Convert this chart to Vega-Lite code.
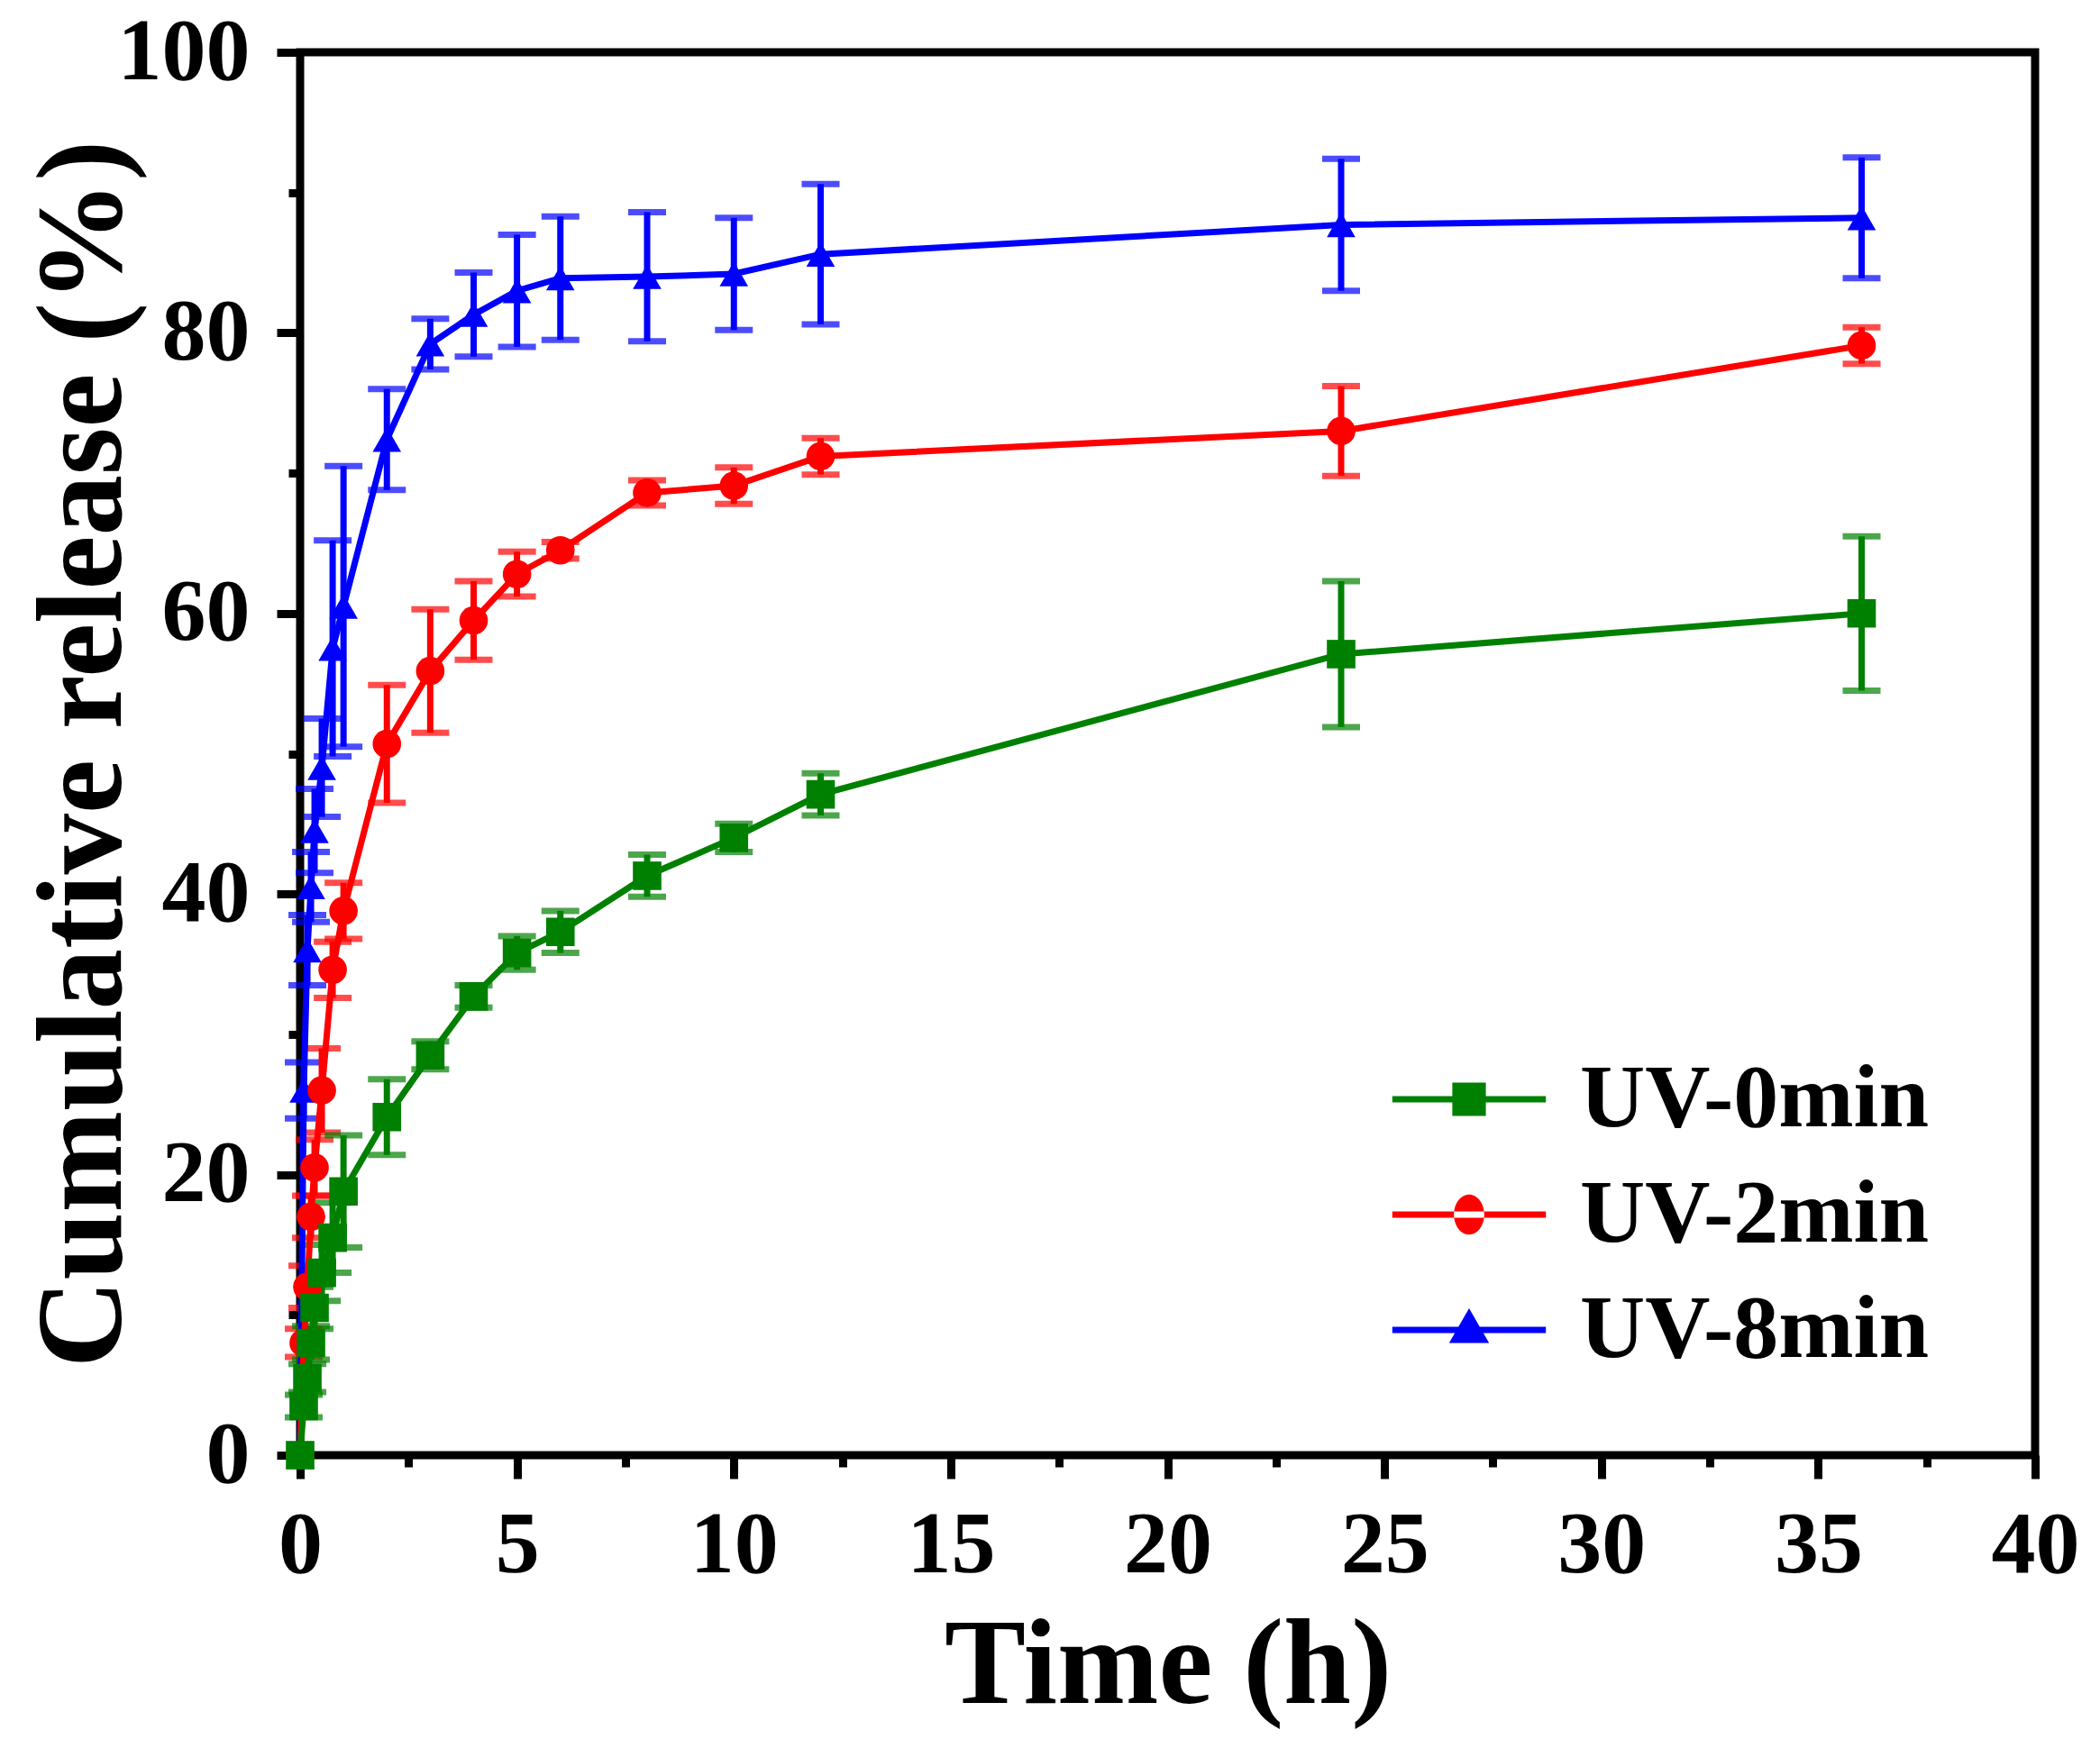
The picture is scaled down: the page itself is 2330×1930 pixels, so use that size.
{
  "$schema": "https://vega.github.io/schema/vega-lite/v6.json",
  "autosize": "none",
  "width": 1925,
  "height": 1557,
  "padding": {"left": 333, "top": 58, "right": 72, "bottom": 315},
  "background": "white",
  "config": {
    "view": {"stroke": "black", "strokeWidth": 9},
    "font": "Liberation Serif",
    "axis": {
      "domain": false, "grid": false, "tickColor": "black", "tickWidth": 9,
      "labelFont": "Liberation Serif", "labelFontWeight": "bold", "labelFontSize": 98, "labelColor": "black",
      "titleFont": "Liberation Serif", "titleFontWeight": "bold", "titleFontSize": 135, "titleColor": "black"
    },
    "legend": {
      "labelFont": "Liberation Serif", "labelFontWeight": "bold", "labelFontSize": 100, "labelColor": "black", "labelLimit": 1000
    }
  },
  "data": {
    "values": [
      {"t": 0, "s": "UV-8min", "v": 0, "e": 0},
      {"t": 0.083, "s": "UV-8min", "v": 26, "e": 2},
      {"t": 0.167, "s": "UV-8min", "v": 36, "e": 2.5},
      {"t": 0.25, "s": "UV-8min", "v": 40.5, "e": 2.5},
      {"t": 0.333, "s": "UV-8min", "v": 44.5, "e": 3},
      {"t": 0.5, "s": "UV-8min", "v": 49, "e": 3.5},
      {"t": 0.75, "s": "UV-8min", "v": 57.5, "e": 7.7},
      {"t": 1, "s": "UV-8min", "v": 60.5, "e": 10},
      {"t": 2, "s": "UV-8min", "v": 72.4, "e": 3.6},
      {"t": 3, "s": "UV-8min", "v": 79.2, "e": 1.8},
      {"t": 4, "s": "UV-8min", "v": 81.3, "e": 3},
      {"t": 5, "s": "UV-8min", "v": 83.0, "e": 4},
      {"t": 6, "s": "UV-8min", "v": 83.9, "e": 4.4},
      {"t": 8, "s": "UV-8min", "v": 84.0, "e": 4.6},
      {"t": 10, "s": "UV-8min", "v": 84.2, "e": 4},
      {"t": 12, "s": "UV-8min", "v": 85.6, "e": 5},
      {"t": 24, "s": "UV-8min", "v": 87.7, "e": 4.7},
      {"t": 36, "s": "UV-8min", "v": 88.2, "e": 4.3},
      {"t": 0, "s": "UV-2min", "v": 0, "e": 0},
      {"t": 0.083, "s": "UV-2min", "v": 8, "e": 1},
      {"t": 0.167, "s": "UV-2min", "v": 12, "e": 1.5},
      {"t": 0.25, "s": "UV-2min", "v": 17, "e": 1.5},
      {"t": 0.333, "s": "UV-2min", "v": 20.5, "e": 2},
      {"t": 0.5, "s": "UV-2min", "v": 26, "e": 3},
      {"t": 0.75, "s": "UV-2min", "v": 34.6, "e": 2},
      {"t": 1, "s": "UV-2min", "v": 38.8, "e": 2},
      {"t": 2, "s": "UV-2min", "v": 50.7, "e": 4.2},
      {"t": 3, "s": "UV-2min", "v": 55.9, "e": 4.4},
      {"t": 4, "s": "UV-2min", "v": 59.5, "e": 2.8},
      {"t": 5, "s": "UV-2min", "v": 62.8, "e": 1.6},
      {"t": 6, "s": "UV-2min", "v": 64.5, "e": 0.6},
      {"t": 8, "s": "UV-2min", "v": 68.6, "e": 0.9},
      {"t": 10, "s": "UV-2min", "v": 69.1, "e": 1.3},
      {"t": 12, "s": "UV-2min", "v": 71.2, "e": 1.3},
      {"t": 24, "s": "UV-2min", "v": 73.0, "e": 3.2},
      {"t": 36, "s": "UV-2min", "v": 79.1, "e": 1.3},
      {"t": 0, "s": "UV-0min", "v": 0, "e": 0},
      {"t": 0.083, "s": "UV-0min", "v": 3.5, "e": 0.8},
      {"t": 0.167, "s": "UV-0min", "v": 5.5, "e": 1},
      {"t": 0.25, "s": "UV-0min", "v": 8, "e": 1.2},
      {"t": 0.333, "s": "UV-0min", "v": 10.5, "e": 1.5},
      {"t": 0.5, "s": "UV-0min", "v": 13, "e": 2},
      {"t": 0.75, "s": "UV-0min", "v": 15.5, "e": 2.5},
      {"t": 1, "s": "UV-0min", "v": 18.8, "e": 4},
      {"t": 2, "s": "UV-0min", "v": 24.1, "e": 2.7},
      {"t": 3, "s": "UV-0min", "v": 28.5, "e": 1},
      {"t": 4, "s": "UV-0min", "v": 32.7, "e": 0.8},
      {"t": 5, "s": "UV-0min", "v": 35.8, "e": 1.2},
      {"t": 6, "s": "UV-0min", "v": 37.3, "e": 1.5},
      {"t": 8, "s": "UV-0min", "v": 41.3, "e": 1.5},
      {"t": 10, "s": "UV-0min", "v": 44.0, "e": 1},
      {"t": 12, "s": "UV-0min", "v": 47.1, "e": 1.5},
      {"t": 24, "s": "UV-0min", "v": 57.1, "e": 5.2},
      {"t": 36, "s": "UV-0min", "v": 60.0, "e": 5.5}
    ]
  },
  "resolve": {"scale": {"shape": "independent", "color": "independent"}, "axis": {"x": "independent", "y": "independent"}},
  "layer": [
    {
      "transform": [{"filter": "datum.e > 0"}],
      "mark": {"type": "errorbar", "thickness": 7, "ticks": {"size": 42, "thickness": 7}},
      "encoding": {
        "x": {"field": "t", "type": "quantitative", "axis": null},
        "y": {"field": "v", "type": "quantitative", "axis": null},
        "yError": {"field": "e"},
        "color": {"field": "s", "type": "nominal", "legend": null,
          "scale": {"domain": ["UV-0min", "UV-2min", "UV-8min"], "range": ["#008000", "#ff0000", "#0000ff"]}}
      }
    },
    {
      "mark": {"type": "line", "strokeWidth": 7},
      "encoding": {
        "x": {"field": "t", "type": "quantitative", "title": "Time (h)",
          "scale": {"domain": [0, 40], "nice": false, "zero": false},
          "axis": {"orient": "bottom", "values": [0, 5, 10, 15, 20, 25, 30, 35, 40], "tickSize": 26, "labelPadding": 26, "titlePadding": 18, "labelFlush": false}},
        "y": {"field": "v", "type": "quantitative", "title": "Cumulative release (%)",
          "scale": {"domain": [0, 100], "nice": false},
          "axis": {"orient": "left", "values": [0, 20, 40, 60, 80, 100], "tickSize": 26, "labelPadding": 30, "titlePadding": -28, "labelFlush": false}},
        "color": {"field": "s", "type": "nominal", "legend": null,
          "scale": {"domain": ["UV-0min", "UV-2min", "UV-8min"], "range": ["#008000", "#ff0000", "#0000ff"]}},
        "order": {"field": "t"}
      }
    },
    {
      "mark": {"type": "point", "filled": true, "opacity": 1, "strokeWidth": 0},
      "encoding": {
        "x": {"field": "t", "type": "quantitative", "axis": null},
        "y": {"field": "v", "type": "quantitative", "axis": null},
        "color": {"field": "s", "type": "nominal", "legend": null,
          "scale": {"domain": ["UV-0min", "UV-2min", "UV-8min"], "range": ["#008000", "#ff0000", "#0000ff"]}},
        "shape": {"field": "s", "type": "nominal", "legend": null,
          "scale": {"domain": ["UV-0min", "UV-2min", "UV-8min"], "range": ["square", "circle", "triangle-up"]}},
        "size": {"value": 1000}
      }
    },
    {
      "mark": {"type": "point", "filled": true, "opacity": 0, "strokeWidth": 0},
      "encoding": {
        "x": {"field": "t", "type": "quantitative",
          "axis": {"orient": "bottom", "values": [2.5, 7.5, 12.5, 17.5, 22.5, 27.5, 32.5, 37.5], "tickSize": 13, "labels": false, "title": null}},
        "y": {"field": "v", "type": "quantitative",
          "axis": {"orient": "left", "values": [10, 30, 50, 70, 90], "tickSize": 13, "labels": false, "title": null}},
        "color": {"field": "s", "type": "nominal", "title": null,
          "scale": {"domain": ["UV-0min", "UV-2min", "UV-8min"], "range": ["#008000", "#ff0000", "#0000ff"]},
          "legend": {"orient": "none", "legendX": 1237, "legendY": 1102, "symbolOpacity": 1, "symbolStrokeWidth": 0, "symbolSize": 14400,
            "labelOffset": 63, "rowPadding": 18, "padding": 0}},
        "shape": {"field": "s", "type": "nominal", "title": null,
          "scale": {"domain": ["UV-0min", "UV-2min", "UV-8min"],
            "range": [
              "M-1.42,-0.057H1.42V0.057H-1.42Z M-0.31,-0.31H0.31V0.31H-0.31Z",
              "M-1.42,-0.057H1.42V0.057H-1.42Z M-0.28,0A0.28,0.37 0 1,0 0.28,0A0.28,0.37 0 1,0 -0.28,0Z",
              "M-1.42,-0.057H1.42V0.057H-1.42Z M0,-0.4L0.37,0.24H-0.37Z"
            ]},
          "legend": {"orient": "none", "legendX": 1237, "legendY": 1102, "symbolOpacity": 1, "symbolStrokeWidth": 0, "symbolSize": 14400,
            "labelOffset": 63, "rowPadding": 18, "padding": 0}}
      }
    }
  ]
}
